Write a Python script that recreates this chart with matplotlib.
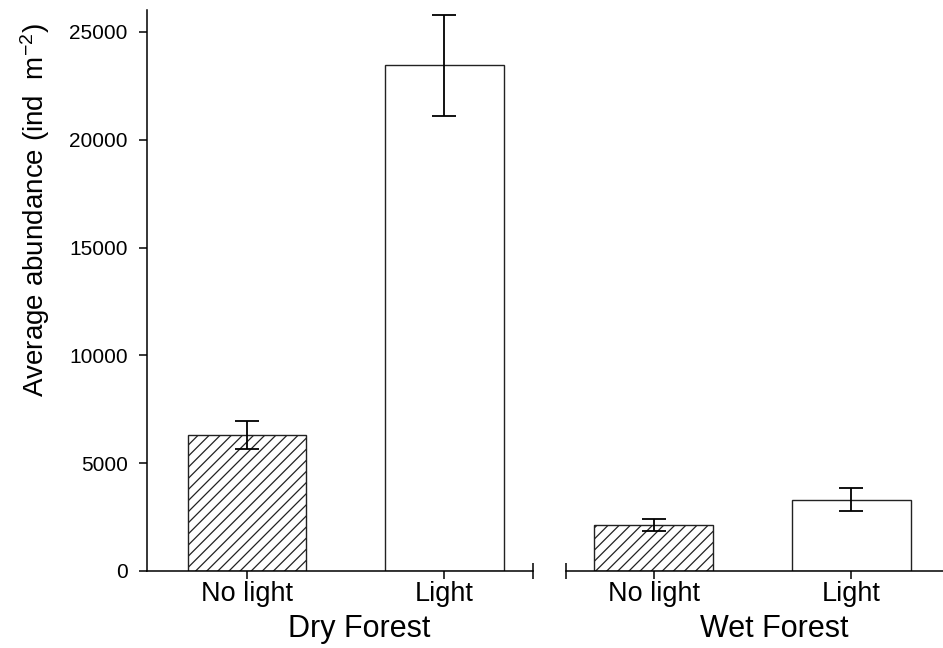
import matplotlib.pyplot as plt

plt.rcParams['font.family'] = ['Liberation Sans', 'DejaVu Sans']
plt.rcParams['mathtext.fontset'] = 'custom'
plt.rcParams['mathtext.rm'] = 'Liberation Sans'
plt.rcParams['mathtext.it'] = 'Liberation Sans'
plt.rcParams['hatch.linewidth'] = 0.9

# data
groups = ['Dry Forest', 'Wet Forest']
treatments = ['No light', 'Light', 'No light', 'Light']
means = [6300, 23450, 2120, 3310]
errors = [660, 2330, 280, 550]
yticks = [0, 5000, 10000, 15000, 20000, 25000]

# layout (x in units of bar spacing)
pos = [0, 1, 2.06, 3.06]
hatches = ['///', '', '///', '']
x_left, x_right = -0.505, 3.524
break_lo, break_hi = 1.449, 1.616
group_x = [0.568, 2.671]

fig = plt.figure(figsize=(9.43, 6.48), dpi=100)
ax = fig.add_axes([147 / 943, 77 / 648, 796 / 943, 560.6 / 648])

ax.bar(pos, means, width=0.6, color='white', edgecolor='#222222',
       linewidth=1.0, hatch=hatches, zorder=2)
ax.errorbar(pos, means, yerr=errors, fmt='none', ecolor='black',
            elinewidth=1.3, capsize=8.5, capthick=1.3, zorder=3)

ax.set_xlim(x_left, x_right)
ax.set_ylim(0, 26000)
ax.set_yticks(yticks)
ax.set_xticks(pos)
ax.set_xticklabels(treatments, fontsize=19.5)
ax.tick_params(axis='y', labelsize=15, length=6, width=1.1, pad=8)
ax.tick_params(axis='x', length=6, width=1.1, pad=1)

for s in ['top', 'right', 'bottom']:
    ax.spines[s].set_visible(False)
ax.spines['left'].set_linewidth(1.1)

# broken x axis
ax.plot([x_left, break_lo], [0, 0], color='black', lw=1.1, clip_on=False, zorder=4)
ax.plot([break_hi, x_right], [0, 0], color='black', lw=1.1, clip_on=False, zorder=4)
ax.plot([break_lo, break_hi], [0, 0], ls='none', marker='|', ms=11.5,
        mew=1.1, color='black', clip_on=False, zorder=4)

for gx, g in zip(group_x, groups):
    ax.annotate(g, xy=(gx, 0), xycoords=('data', 'axes fraction'),
                xytext=(0, -47.5), textcoords='offset points',
                ha='center', va='baseline', fontsize=22)

fig.text(35 / 943, 1 - 210 / 648, 'Average abundance (ind  m$^{-2}$)',
         rotation=90, ha='center', va='center', fontsize=20)

fig.savefig('out.png', dpi=100)
